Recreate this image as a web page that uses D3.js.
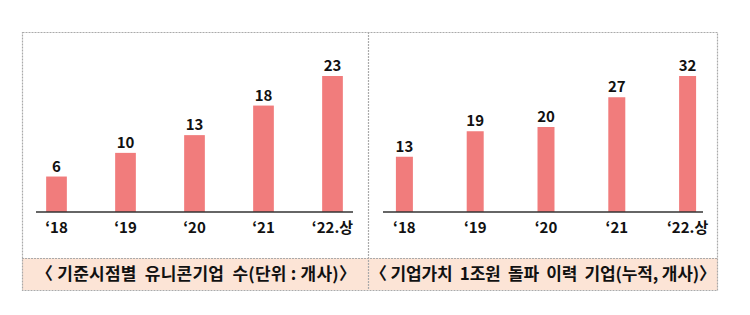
<!DOCTYPE html>
<html>
<head>
<meta charset="utf-8">
<script src="https://cdn.jsdelivr.net/npm/d3@7"></script>
<style>
  body { margin: 0; background: #fff; }
  text { font-family: "Noto Sans CJK KR", "Noto Sans", sans-serif; }
</style>
</head>
<body>
<div id="chart"></div>
<script>
// data
const years = ["‘18", "‘19", "‘20", "‘21", "‘22.상"];
const unicornCount = [6, 10, 13, 18, 23];
const overTrillion = [13, 19, 20, 27, 32];
const captions = ["〈 기준시점별  유니콘기업  수(단위 : 개사)〉", "〈 기업가치  1조원  돌파  이력  기업(누적, 개사)〉"];

const W = 750, H = 315;
const svg = d3.select("#chart").append("svg")
  .attr("width", W)
  .attr("height", H);

const tableTop = 32, base = 212, barTop = 76, capTop = 258, capBottom = 290;
const barColor = "#f17c7c";

// panel setup
let panels = [
  { values: unicornCount, x0: 22, x1: 368, band: [22, 367], pad: 0.7, line: [36, 353], caption: captions[0], capX: [36, 356] },
  { values: overTrillion, x0: 368, x1: 718, band: [369, 723], pad: 0.76, line: [383, 703], caption: captions[1], capX: [370, 716] }
];

panels.forEach(function (p) {
  let g = svg.append("g");

  // caption background
  g.append("rect")
    .attr("x", p.x0).attr("y", capTop)
    .attr("width", p.x1 - p.x0).attr("height", capBottom - capTop)
    .attr("fill", "#fce4d6");

  let x = d3.scaleBand().domain(years).range(p.band).paddingInner(p.pad).paddingOuter(p.pad / 2);
  let y = d3.scaleLinear().domain([0, d3.max(p.values)]).range([base, barTop]);

  g.selectAll(".bar")
    .data(p.values)
    .enter().append("rect")
    .attr("class", "bar")
    .attr("x", function (d, i) { return x(years[i]); })
    .attr("y", function (d) { return y(d); })
    .attr("width", x.bandwidth())
    .attr("height", function (d) { return base - y(d); })
    .attr("fill", barColor);

  g.selectAll(".val")
    .data(p.values)
    .enter().append("text")
    .attr("x", function (d, i) { return x(years[i]) + x.bandwidth() / 2; })
    .attr("y", function (d) { return y(d) - 5; })
    .attr("text-anchor", "middle")
    .attr("font-size", 15)
    .attr("font-weight", "bold")
    .attr("fill", "#111")
    .text(function (d) { return d; });

  // baseline
  g.append("line")
    .attr("x1", p.line[0]).attr("x2", p.line[1])
    .attr("y1", base).attr("y2", base)
    .attr("stroke", "#333").attr("stroke-width", 1.5);

  g.selectAll(".tick")
    .data(years)
    .enter().append("text")
    .attr("x", function (d) { return x(d) + x.bandwidth() / 2; })
    .attr("y", 233)
    .attr("text-anchor", "middle")
    .attr("font-size", 15)
    .attr("font-weight", "bold")
    .attr("fill", "#111")
    .text(function (d) { return d; });

  g.append("text")
    .attr("x", p.capX[0])
    .attr("y", 280)
    .attr("font-size", 17)
    .attr("font-weight", "bold")
    .attr("fill", "#111")
    .attr("xml:space", "preserve")
    .style("white-space", "pre")
    .attr("textLength", p.capX[1] - p.capX[0])
    .attr("lengthAdjust", "spacing")
    .text(p.caption);
});

// table borders
let border = svg.append("g")
  .attr("fill", "none")
  .attr("stroke", "#aaa")
  .attr("stroke-width", 1.2)
  .attr("stroke-dasharray", "2,1");
border.append("rect").attr("x", 22.5).attr("y", tableTop + 0.5).attr("width", 695).attr("height", capBottom - tableTop);
border.append("line").attr("x1", 368.5).attr("x2", 368.5).attr("y1", tableTop).attr("y2", capBottom);
border.append("line").attr("x1", 22).attr("x2", 718).attr("y1", capTop + 0.5).attr("y2", capTop + 0.5);
</script>
</body>
</html>
